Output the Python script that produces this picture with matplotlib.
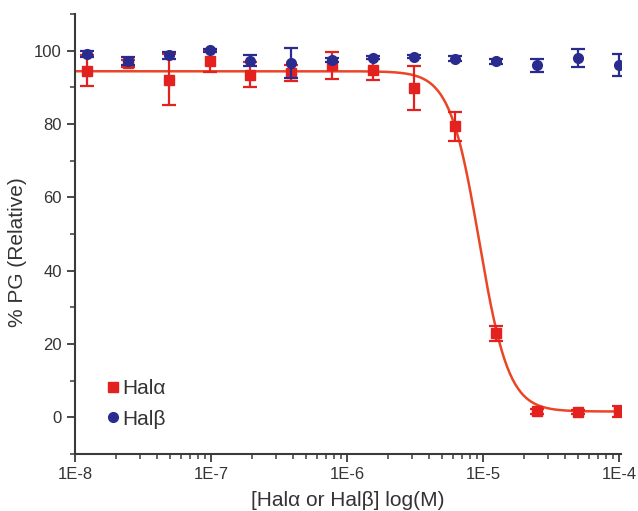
import numpy as np
import matplotlib.pyplot as plt
from matplotlib.lines import Line2D
from matplotlib.ticker import LogLocator, MultipleLocator, FixedLocator, NullFormatter

plt.rcParams['font.family'] = ['Liberation Sans', 'DejaVu Sans']

# 2-fold serial dilution, molar
conc = [1.22e-8, 2.44e-8, 4.88e-8, 9.77e-8, 1.95e-7, 3.91e-7, 7.81e-7,
        1.56e-6, 3.125e-6, 6.25e-6, 1.25e-5, 2.5e-5, 5e-5, 1e-4]

hal_a = [94.6, 96.6, 92.1, 97.2, 93.5, 94.0, 96.0, 94.8, 89.8, 79.4, 22.9, 1.6, 1.5, 1.6]
hal_a_err = [4.3, 1.0, 7.0, 2.9, 3.3, 2.2, 3.6, 2.9, 6.1, 3.9, 2.0, 0.6, 0.5, 1.5]

hal_b = [99.2, 97.2, 98.7, 100.1, 97.2, 96.6, 97.5, 98.1, 98.4, 97.8, 97.1, 96.0, 98.0, 96.0]
hal_b_err = [0.8, 1.0, 1.0, 0.5, 1.5, 4.1, 0.5, 0.4, 0.4, 0.7, 0.6, 1.8, 2.4, 3.0]

# Hill fit for Hal-alpha (top, bottom, IC50, slope)
fit_top = 94.4
fit_bottom = 1.6
fit_ic50 = 9.4e-6
fit_hill = 4.0

red = '#e3221f'
curve_red = '#ec4526'
blue = '#2a2b8e'
axis_col = '#3a3a3a'
text_col = '#333333'

fig = plt.figure(figsize=(6.38, 5.11), dpi=100)
ax = fig.add_axes([0.1176, 0.1115, 0.856, 0.861])

# fitted curve
xf = np.logspace(-8, -4, 400)
yf = fit_bottom + (fit_top - fit_bottom) / (1 + (xf / fit_ic50) ** fit_hill)
ax.plot(xf, yf, color=curve_red, lw=1.8, zorder=2)

ax.errorbar(conc, hal_a, yerr=hal_a_err, fmt='s', color=red, ms=6.5,
            ecolor=red, elinewidth=1.6, capsize=5, capthick=1.6, zorder=3)
ax.errorbar(conc, hal_b, yerr=hal_b_err, fmt='o', color=blue, ms=7,
            ecolor=blue, elinewidth=1.6, capsize=5, capthick=1.6, zorder=4)

ax.set_xscale('log')
ax.set_xlim(1e-8, 1.04e-4)
ax.set_ylim(-10, 110)

ax.xaxis.set_major_locator(FixedLocator([1e-8, 1e-7, 1e-6, 1e-5, 1e-4]))
ax.set_xticklabels(['1E-8', '1E-7', '1E-6', '1E-5', '1E-4'])
ax.xaxis.set_minor_locator(LogLocator(base=10, subs=np.arange(2, 10), numticks=20))
ax.xaxis.set_minor_formatter(NullFormatter())
ax.yaxis.set_major_locator(FixedLocator([0, 20, 40, 60, 80, 100]))
ax.yaxis.set_minor_locator(MultipleLocator(10))

for s in ['top', 'right']:
    ax.spines[s].set_visible(False)
for s in ['left', 'bottom']:
    ax.spines[s].set_color(axis_col)
    ax.spines[s].set_linewidth(1.5)

ax.tick_params(which='major', direction='out', length=6, width=1.3, color=axis_col,
               labelsize=12, labelcolor=text_col)
ax.tick_params(which='minor', direction='out', length=3.5, width=1.1, color=axis_col)

ax.set_xlabel('[Hal\u03b1 or Hal\u03b2] log(M)', fontsize=15, color=text_col, labelpad=6)
ax.set_ylabel('% PG (Relative)', fontsize=15, color=text_col)
ax.yaxis.set_label_coords(-0.088, 0.46)

handles = [Line2D([], [], ls='none', marker='s', color=red, ms=6.5),
           Line2D([], [], ls='none', marker='o', color=blue, ms=7)]
leg = ax.legend(handles, ['Hal\u03b1', 'Hal\u03b2'], loc='lower left',
                bbox_to_anchor=(0.024, 0.015), frameon=False, fontsize=15,
                handletextpad=0.15, handlelength=0.6, labelspacing=0.54)
for t in leg.get_texts():
    t.set_color(text_col)

fig.savefig('out.png', dpi=100)
